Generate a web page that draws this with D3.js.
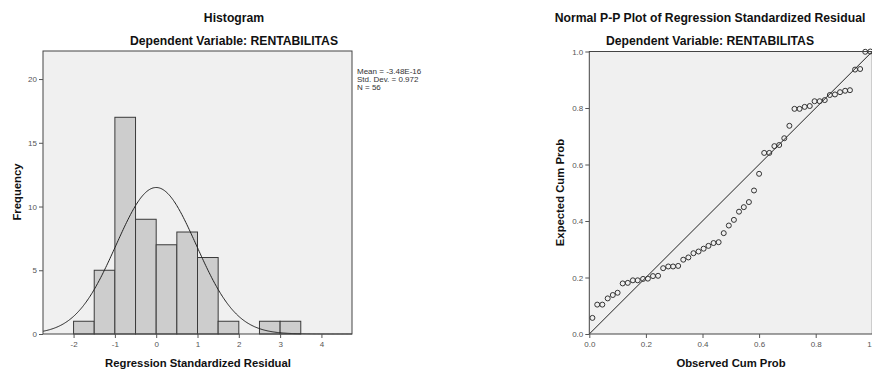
<!DOCTYPE html>
<html>
<head>
<meta charset="utf-8">
<script src="https://cdn.jsdelivr.net/npm/d3@7"></script>
<style>
  body { margin: 0; background: #ffffff; }
  text { font-family: "Liberation Sans", Arial, sans-serif; }
</style>
</head>
<body>
<script>
// histogram of residuals
const binStarts = [-2, -1.5, -1, -0.5, 0, 0.5, 1, 1.5, 2, 2.5, 3];
const binCounts = [1, 5, 17, 9, 7, 8, 6, 1, 0, 1, 1];
const binWidth = 0.5;
const resMean = -3.48e-16;
const resSd = 0.972;
const resN = 56;
const histXTicks = [-2, -1, 0, 1, 2, 3, 4];
const histYTicks = [0, 5, 10, 15, 20];
const statLines = ["Mean = -3.48E-16", "Std. Dev. = 0.972", "N = 56"];

// P-P plot points
const observedCum = [0.011, 0.028, 0.046, 0.065, 0.083, 0.100, 0.118, 0.136, 0.154, 0.171,
  0.190, 0.207, 0.225, 0.243, 0.261, 0.279, 0.296, 0.314, 0.332, 0.350,
  0.368, 0.386, 0.404, 0.421, 0.439, 0.457, 0.475, 0.493, 0.511, 0.529,
  0.546, 0.564, 0.582, 0.600, 0.618, 0.636, 0.654, 0.671, 0.689, 0.707,
  0.725, 0.743, 0.761, 0.779, 0.796, 0.814, 0.832, 0.850, 0.868, 0.886,
  0.904, 0.921, 0.939, 0.957, 0.975, 0.993];
const expectedCum = [0.057, 0.104, 0.104, 0.126, 0.138, 0.146, 0.179, 0.181, 0.190, 0.190,
  0.195, 0.196, 0.205, 0.206, 0.233, 0.239, 0.239, 0.241, 0.263, 0.271,
  0.286, 0.292, 0.302, 0.312, 0.322, 0.325, 0.357, 0.384, 0.404, 0.433,
  0.449, 0.467, 0.508, 0.567, 0.641, 0.641, 0.665, 0.669, 0.693, 0.737,
  0.797, 0.797, 0.804, 0.807, 0.824, 0.824, 0.828, 0.846, 0.848, 0.856,
  0.861, 0.863, 0.936, 0.938, 0.999, 1.000];
const ppTicks = [0, 0.2, 0.4, 0.6, 0.8, 1];
const ppTickLabels = ["0.0", "0.2", "0.4", "0.6", "0.8", "1.0"];

const bgColor = "#f0f0f0";
const frameColor = "#444444";
const tickColor = "#555555";

function frame(svg, x0, y0, x1, y1) {
  svg.append("rect")
    .attr("x", x0).attr("y", y0)
    .attr("width", x1 - x0).attr("height", y1 - y0)
    .attr("fill", bgColor)
    ;
}

function border(svg, x0, y0, x1, y1) {
  svg.append("rect")
    .attr("x", x0).attr("y", y0)
    .attr("width", x1 - x0).attr("height", y1 - y0)
    .attr("fill", "none")
    .attr("stroke", frameColor)
    .attr("stroke-width", 1)
    ;
}

function styleAxis(g) {
  g.select(".domain").remove();
  g.selectAll(".tick line").attr("stroke", tickColor);
  g.selectAll(".tick text")
    .attr("fill", tickColor)
    .style("font-size", "8px")
    .style("font-family", "'Liberation Sans', Arial, sans-serif");
}

function boldText(svg, x, y, str, size, rotate) {
  let t = svg.append("text")
    .attr("text-anchor", "middle")
    .attr("font-weight", "bold")
    .attr("font-size", size)
    .attr("fill", "#111")
    .text(str);
  if (rotate) {
    t.attr("transform", "translate(" + x + "," + y + ") rotate(-90)");
  } else {
    t.attr("x", x).attr("y", y);
  }
  return t;
}

function init() {
  let svg = d3.select("body").append("svg")
    .attr("width", 872)
    .attr("height", 369)
    ;

  // ---------- histogram ----------
  let hL = 43, hT = 51, hR = 352, hB = 334;
  let x = d3.scaleLinear().domain([-2.74, 4.74]).range([hL, hR]);
  let y = d3.scaleLinear().domain([0, 22.2]).range([hB, hT]);

  frame(svg, hL, hT, hR, hB);

  let bins = binStarts.map((s, i) => ({ start: s, count: binCounts[i] }))
    .filter(b => b.count > 0);

  svg.selectAll()
    .data(bins)
    .enter()
      .append("rect")
        .attr("x", d => x(d.start))
        .attr("y", d => y(d.count))
        .attr("width", d => x(d.start + binWidth) - x(d.start))
        .attr("height", d => y(0) - y(d.count))
        .attr("fill", "#cdcdcd")
        .attr("stroke", "#3a3a3a")
        .attr("stroke-width", 1)
    ;

  // fitted normal curve from mean / sd / N
  let curve = d3.range(-2.74, 4.745, 0.02).map(v => {
    let z = (v - resMean) / resSd;
    return [v, resN * binWidth * Math.exp(-0.5 * z * z) / (resSd * Math.sqrt(2 * Math.PI))];
  });
  svg.append("path")
    .datum(curve)
    .attr("d", d3.line().x(d => x(d[0])).y(d => y(d[1])))
    .attr("fill", "none")
    .attr("stroke", "#222")
    .attr("stroke-width", 1)
    ;

  border(svg, hL, hT, hR, hB);

  svg.append("g")
    .attr("transform", "translate(0," + hB + ")")
    .call(d3.axisBottom(x).tickValues(histXTicks).tickSize(4).tickPadding(3).tickFormat(d => String(d)))
    .call(styleAxis)
    ;
  svg.append("g")
    .attr("transform", "translate(" + hL + ",0)")
    .call(d3.axisLeft(y).tickValues(histYTicks).tickSize(4).tickPadding(2).tickFormat(d => String(d)))
    .call(styleAxis)
    ;

  svg.selectAll()
    .data(statLines)
    .enter()
      .append("text")
        .attr("x", 357)
        .attr("y", (d, i) => 73.5 + i * 8)
        .attr("font-size", 8)
        .attr("fill", "#333")
        .text(d => d)
    ;

  boldText(svg, 234, 21.5, "Histogram", 12.2);
  boldText(svg, 234, 45, "Dependent Variable: RENTABILITAS", 12.2);
  boldText(svg, 198, 366.5, "Regression Standardized Residual", 11.3);
  boldText(svg, 21, 192, "Frequency", 11.3, true);

  // ---------- P-P plot ----------
  let pL = 589.3, pT = 51.5, pR = 872.3, pB = 334;
  let px = d3.scaleLinear().domain([0, 1]).range([pL, pR]);
  let py = d3.scaleLinear().domain([0, 1]).range([pB, pT]);

  frame(svg, pL, pT, pR, pB);

  svg.append("line")
    .attr("x1", px(0)).attr("y1", py(0))
    .attr("x2", px(1)).attr("y2", py(1))
    .attr("stroke", "#222")
    .attr("stroke-width", 1)
    ;

  svg.selectAll()
    .data(observedCum.map((o, i) => [o, expectedCum[i]]))
    .enter()
      .append("circle")
        .attr("cx", d => px(d[0]))
        .attr("cy", d => py(d[1]))
        .attr("r", 2.5)
        .attr("fill", "none")
        .attr("stroke", "#333")
        .attr("stroke-width", 1)
    ;

  border(svg, pL, pT, pR, pB);

  svg.append("g")
    .attr("transform", "translate(0," + pB + ")")
    .call(d3.axisBottom(px).tickValues(ppTicks).tickSize(4).tickPadding(3).tickFormat((d, i) => ppTickLabels[i]))
    .call(styleAxis)
    ;
  svg.append("g")
    .attr("transform", "translate(" + pL + ",0)")
    .call(d3.axisLeft(py).tickValues(ppTicks).tickSize(4).tickPadding(2).tickFormat((d, i) => ppTickLabels[i]))
    .call(styleAxis)
    ;

  boldText(svg, 710, 21.5, "Normal P-P Plot of Regression Standardized Residual", 12.2);
  boldText(svg, 710, 45, "Dependent Variable: RENTABILITAS", 12.2);
  boldText(svg, 731, 366.5, "Observed Cum Prob", 11.3);
  boldText(svg, 564, 192.5, "Expected Cum Prob", 11.3, true);
}

init();
</script>
</body>
</html>
